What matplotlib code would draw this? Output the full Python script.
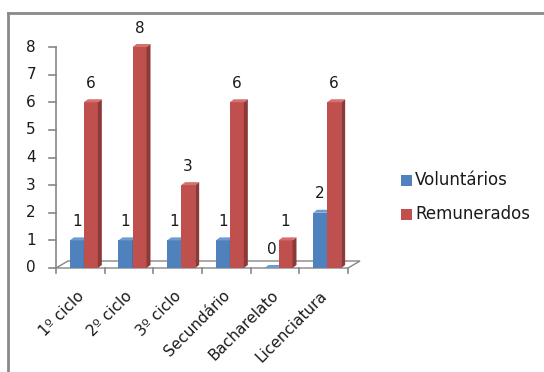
import matplotlib
matplotlib.use("Agg")
import matplotlib.pyplot as plt
from matplotlib.patches import Polygon, Rectangle
from matplotlib.lines import Line2D

categories = ["1º ciclo", "2º ciclo", "3º ciclo", "Secundário", "Bacharelato", "Licenciatura"]
voluntarios = [1, 1, 1, 1, 0, 2]
remunerados = [6, 8, 3, 6, 1, 6]
series_names = ["Voluntários", "Remunerados"]
y_ticks = [0, 1, 2, 3, 4, 5, 6, 7, 8]

W, H = 544, 372
fig = plt.figure(figsize=(W / 100, H / 100), dpi=100)
plt.rcParams["font.family"] = ["DejaVu Sans"]

x0, x1, y0, y1 = 56, 348, 268, 47
ax = fig.add_axes([x0 / W, 1 - y0 / H, (x1 - x0) / W, (y0 - y1) / H])
ax.set_xlim(-0.5, len(categories) - 0.5)
ax.set_ylim(0, 8)
ax.axis("off")

px_x = (x1 - x0) / len(categories)   # pixels per x unit
px_y = (y0 - y1) / 8                 # pixels per y unit

gray = "#868686"
txt = "#1a1a1a"
# floor
fdx, fdy = 12 / px_x, 7 / px_y
xa, xb = -0.5, len(categories) - 0.5
floor = Polygon([(xa, 0), (xb, 0), (xb + fdx, fdy), (xa + fdx, fdy)], closed=True,
                facecolor="white", edgecolor=gray, lw=1.0, zorder=1, clip_on=False)
ax.add_patch(floor)

# value axis with ticks
ax.add_line(Line2D([xa, xa], [0, 8], color=gray, lw=1.2, clip_on=False, zorder=2))
tick_dx = 7 / px_x
for t in y_ticks:
    ax.add_line(Line2D([xa - tick_dx, xa], [t, t], color=gray, lw=1.2, clip_on=False))
    ax.text(xa - 20 / px_x, t, str(t), ha="right", va="center", fontsize=11, color=txt)

# category ticks
for k in range(len(categories) + 1):
    xx = xa + k
    ax.add_line(Line2D([xx, xx], [0, -5 / px_y], color=gray, lw=1.2, clip_on=False))

bw = 14 / px_x
ddx, ddy = 4 / px_x, 3 / px_y
shift = 3.5 / px_x

def bar3d(xc, h, front, side, top):
    xl, xr = xc - bw / 2, xc + bw / 2
    ax.add_patch(Rectangle((xl, 0), bw, h, facecolor=front, edgecolor="none", zorder=3, clip_on=False))
    ax.add_patch(Polygon([(xr, 0), (xr + ddx, ddy), (xr + ddx, h + ddy), (xr, h)],
                         closed=True, facecolor=side, edgecolor="none", zorder=3, clip_on=False))
    ax.add_patch(Polygon([(xl, h), (xr, h), (xr + ddx, h + ddy), (xl + ddx, h + ddy)],
                         closed=True, facecolor=top, edgecolor="none", zorder=3, clip_on=False))
    ax.text(xc, h + 19 / px_y, str(h), ha="center", va="center", fontsize=11,
            color=txt, zorder=5)

blue = ("#4F81BD", "#385D8A", "#6F9BD3")
red = ("#C0504D", "#8C3A38", "#D6706D")
for i in range(len(categories)):
    bar3d(i + shift - bw / 2, voluntarios[i], *blue)
    bar3d(i + shift + bw / 2, remunerados[i], *red)

for i, c in enumerate(categories):
    ax.text(i - 4 / px_x, -20 / px_y, c, rotation=45, ha="right", va="top",
            rotation_mode="anchor", fontsize=11, color=txt)

# legend
for j, (name, col) in enumerate(zip(series_names, [blue[0], red[0]])):
    yc = 180 + j * 34
    fig.patches.append(Rectangle((401 / W, 1 - (yc + 5.5) / H), 11 / W, 11 / H,
                                 transform=fig.transFigure, facecolor=col, edgecolor="none"))
    fig.text(415 / W, 1 - yc / H, name, ha="left", va="center", fontsize=12, color=txt)

# outer frame
fig.add_artist(Line2D([8 / W, 8 / W], [0, 1 - 13 / H], transform=fig.transFigure, color="#8a8a8a", lw=2))
fig.add_artist(Line2D([8 / W, 1], [1 - 13 / H, 1 - 13 / H], transform=fig.transFigure, color="#8a8a8a", lw=2))

fig.savefig("out.png", dpi=100, facecolor="white")
